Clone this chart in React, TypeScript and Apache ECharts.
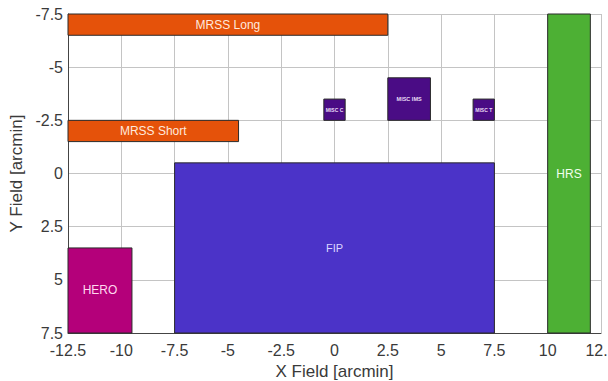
import React, { useEffect, useRef } from "react";
import * as echarts from "echarts";

// Instrument footprints [arcmin]
const names = ["MRSS Long", "MRSS Short", "MISC C", "MISC IMS", "MISC T", "FIP", "HERO", "HRS"];
const x1 = [-12.5, -12.5, -0.5, 2.5, 6.5, -7.5, -12.5, 10];
const x2 = [2.5, -4.5, 0.5, 4.5, 7.5, 7.5, -9.5, 12];
const y1 = [-7.5, -2.5, -3.5, -4.5, -3.5, -0.5, 3.5, -7.5];
const y2 = [-6.5, -1.5, -2.5, -2.5, -2.5, 7.5, 7.5, 7.5];

// styles
const fills = ["#E5520A", "#E5520A", "#4A0C85", "#4A0C85", "#4A0C85", "#4B33C8", "#B4007A", "#4DB034"];
const textColors = ["#FFE9DD", "#FFE9DD", "#E9DDF5", "#E9DDF5", "#E9DDF5", "#DCD6FF", "#FFD9EE", "#F1FFEE"];
const fontSizes = [12, 12, 5, 5.5, 5, 11, 12, 12];

const xTicks = { min: -12.5, max: 12.5, interval: 2.5 };
const yTicks = { min: -7.5, max: 7.5, interval: 2.5 };

export default function App() {
  const ref = useRef<HTMLDivElement>(null);
  useEffect(() => {
    if (!ref.current) return;
    const chart = echarts.init(ref.current, null, { renderer: "svg" });
    const data = names.map((n, i) => [x1[i], x2[i], y1[i], y2[i], i]);
    const font = "'Liberation Sans', Arial, sans-serif";
    chart.setOption({
      animation: false,
      backgroundColor: "#ffffff",
      grid: { left: 68, right: 7, top: 14, bottom: 48, containLabel: false, outerBoundsMode: "none" },
      xAxis: {
        type: "value",
        ...xTicks,
        name: "X Field [arcmin]",
        nameLocation: "middle",
        nameGap: 30,
        nameTextStyle: { fontSize: 17, color: "#3a3a3a", fontFamily: font },
        axisLine: { show: true, onZero: false, lineStyle: { color: "#444", width: 1 } },
        axisTick: { show: false },
        axisLabel: { fontSize: 16, color: "#3a3a3a", fontFamily: font, margin: 9, showMaxLabel: true, showMinLabel: true },
        splitLine: { show: true, lineStyle: { color: "#c4c4c4", width: 1 } },
      },
      yAxis: {
        type: "value",
        inverse: true,
        ...yTicks,
        name: "Y Field [arcmin]",
        nameLocation: "middle",
        nameGap: 36,
        nameTextStyle: { fontSize: 17, color: "#3a3a3a", fontFamily: font },
        axisLine: { show: true, onZero: false, lineStyle: { color: "#444", width: 1 } },
        axisTick: { show: false },
        axisLabel: { fontSize: 16, color: "#3a3a3a", fontFamily: font, margin: 5, showMaxLabel: true, showMinLabel: true },
        splitLine: { show: true, lineStyle: { color: "#c4c4c4", width: 1 } },
      },
      series: [
        {
          type: "custom",
          clip: false,
          data,
          renderItem: (params: any, api: any) => {
            const i = api.value(4);
            const p1 = api.coord([api.value(0), api.value(2)]);
            const p2 = api.coord([api.value(1), api.value(3)]);
            const x = Math.min(p1[0], p2[0]);
            const y = Math.min(p1[1], p2[1]);
            const w = Math.abs(p2[0] - p1[0]);
            const h = Math.abs(p2[1] - p1[1]);
            return {
              type: "group",
              children: [
                {
                  type: "rect",
                  shape: { x, y, width: w, height: h },
                  style: { fill: fills[i], stroke: "#2a2a2a", lineWidth: 1 },
                },
                {
                  type: "text",
                  x: x + w / 2,
                  y: y + h / 2,
                  style: {
                    text: names[i],
                    fill: textColors[i],
                    fontSize: fontSizes[i],
                    fontFamily: font,
                    fontWeight: i >= 2 && i <= 4 ? "bold" : "normal",
                    align: "center",
                    verticalAlign: "middle",
                  },
                },
              ],
            };
          },
        },
      ],
    });
    return () => chart.dispose();
  }, []);
  return (
    <div
      ref={ref}
      style={{ position: "fixed", left: 0, top: 0, width: 608, height: 381 }}
    />
  );
}
